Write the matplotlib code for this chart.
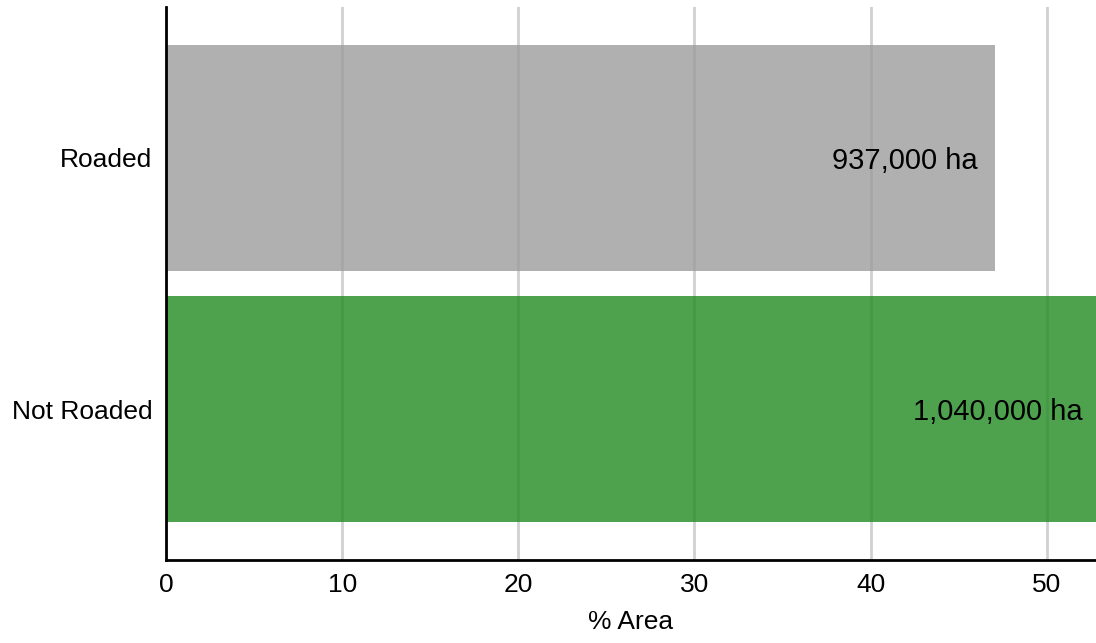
import numpy as np
import matplotlib
matplotlib.use("Agg")
import matplotlib.pyplot as plt

plt.rcParams['font.family'] = ['Liberation Sans', 'DejaVu Sans']

categories = ["Roaded", "Not Roaded"]
pct_area = [47.05, 53.0]
area_labels = ["937,000 ha", "1,040,000 ha"]
bar_colors = ["#9c9c9c", "forestgreen"]

fig = plt.figure(figsize=(10.96, 6.43), dpi=100)
ax = fig.add_axes([0.1515, 0.129, 0.8485, 0.860])

ypos = np.arange(len(categories))
ax.barh(ypos, pct_area, height=0.9, color=bar_colors, alpha=0.8, zorder=2)

ax.set_xlim(0, 52.8)
ax.set_ylim(1.6, -0.6)

# labels sit just inside the end of each bar
for y, val, txt in zip(ypos, pct_area, area_labels):
    ax.annotate(txt, xy=(val, y), xytext=(-17, -3),
                textcoords='offset pixels', annotation_clip=False,
                ha='right', va='center', fontsize=21, color='black', zorder=3)

ax.set_xticks(np.arange(0, 51, 10))
ax.set_yticks(ypos)
ax.set_yticklabels(categories)
ax.tick_params(axis='both', length=0, labelsize=19)
ax.tick_params(axis='x', pad=9)
ax.tick_params(axis='y', pad=10)
ax.set_xlabel("% Area", fontsize=19, labelpad=10)

ax.set_axisbelow(True)
ax.grid(axis='x', color='#d0d0d0', linewidth=2)
ax.grid(axis='y', visible=False)

for side in ['top', 'right']:
    ax.spines[side].set_visible(False)
for side in ['left', 'bottom']:
    ax.spines[side].set_linewidth(2)
    ax.spines[side].set_color('black')
    ax.spines[side].set_zorder(4)

fig.savefig("out.png", dpi=100)
